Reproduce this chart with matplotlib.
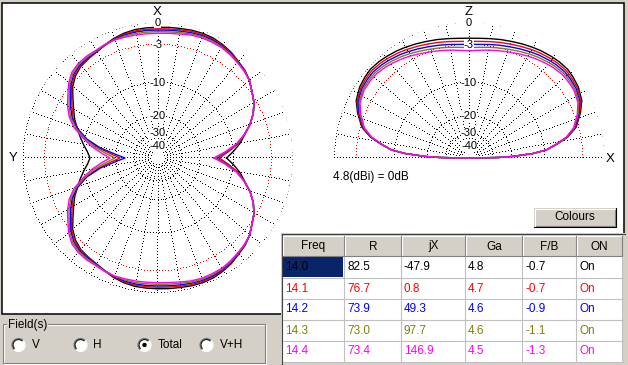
import numpy as np
import matplotlib
matplotlib.use("Agg")
import matplotlib.pyplot as plt
from matplotlib.patches import Rectangle, Circle, Arc

# Table values
freq = ["14.0", "14.1", "14.2", "14.3", "14.4"]
res_r = [82.5, 76.7, 73.9, 73.0, 73.4]
res_jx = [-47.9, 0.8, 49.3, 97.7, 146.9]
gain_ga = [4.8, 4.7, 4.6, 4.6, 4.5]
f_b = [-0.7, -0.7, -0.9, -1.1, -1.3]
on_flag = ["On", "On", "On", "On", "On"]
headers = ["Freq", "R", "jX", "Ga", "F/B", "ON"]
colors = ["#000000", "#ff0000", "#0000ff", "#808000", "#ff00ff"]

# Azimuth pattern (dB) for the upper half, angle ccw from X (negative = right side)
az_theta = [-90, -85, -80, -75, -70, -65, -60, -55, -50, -45, -40, -35, -30, -25, -20,
            -15, -10, -5, 0, 5, 10, 15, 20, 25, 30, 35, 40, 45, 50, 55, 60, 65, 70,
            75, 80, 85, 90]
az_140 = [-11.5, -9.8, -8.2, -6.9, -5.4, -4.2, -3.3, -2.7, -2.0, -1.5, -1.2, -0.8, -0.55,
          -0.35, -0.3, -0.35, -0.45, -0.5, -0.55, -0.57, -0.6, -0.75, -1.0, -1.35, -1.7,
          -1.9, -2.1, -2.6, -3.4, -4.6, -5.7, -6.7, -7.9, -9.0, -10.1, -11.2, -11.9]
az_141 = [-13.4, -11.0, -8.6, -7.0, -5.4, -4.2, -3.3, -2.7, -2.0, -1.5, -1.25, -0.85, -0.65,
          -0.5, -0.45, -0.5, -0.62, -0.7, -0.75, -0.75, -0.77, -0.88, -1.1, -1.4, -1.7,
          -1.85, -2.0, -2.45, -3.2, -4.35, -5.4, -6.4, -8.0, -10.3, -13.8, -18.2, -22.0]
az_142 = [-14.2, -11.5, -8.8, -7.0, -5.4, -4.2, -3.3, -2.7, -2.0, -1.55, -1.3, -0.95, -0.75,
          -0.62, -0.6, -0.68, -0.8, -0.88, -0.92, -0.92, -0.93, -1.0, -1.15, -1.4, -1.65,
          -1.75, -1.85, -2.25, -3.0, -4.1, -5.1, -6.2, -8.0, -10.5, -14.5, -20.0, -24.4]
az_143 = [-14.6, -11.7, -8.9, -7.0, -5.4, -4.2, -3.3, -2.7, -2.0, -1.6, -1.35, -1.05, -0.85,
          -0.77, -0.75, -0.85, -1.0, -1.1, -1.14, -1.14, -1.12, -1.15, -1.2, -1.35, -1.55,
          -1.6, -1.7, -2.05, -2.8, -3.85, -4.8, -5.9, -7.6, -10.0, -12.8, -16.5, -19.8]
az_144 = [-15.0, -11.9, -9.0, -7.0, -5.4, -4.2, -3.3, -2.7, -2.0, -1.65, -1.4, -1.15, -0.95,
          -0.92, -0.9, -1.0, -1.2, -1.3, -1.36, -1.36, -1.33, -1.3, -1.25, -1.3, -1.45,
          -1.45, -1.55, -1.85, -2.6, -3.6, -4.5, -5.6, -7.2, -9.6, -12.0, -15.0, -17.9]

# Elevation pattern (dB), elevation angle from horizon 0..90
el_deg = [0, 1, 2, 4, 6, 9, 12, 16, 22, 27, 33, 38, 42, 47, 51, 56, 60, 65, 70, 75, 80, 85, 90]
el_140 = [-80, -26, -19.5, -12.8, -9.4, -7.1, -5.0, -3.3, -2.0, -1.1, -0.6, -0.4, -0.3,
          -0.4, -0.55, -0.75, -0.95, -1.2, -1.45, -1.65, -1.85, -2.0, -2.05]
el_141 = [-80, -26, -19.5, -12.8, -9.4, -7.15, -5.07, -3.4, -2.12, -1.24, -0.78, -0.62, -0.55,
          -0.68, -0.85, -1.08, -1.3, -1.58, -1.85, -2.07, -2.28, -2.45, -2.5]
el_142 = [-80, -26, -19.5, -12.8, -9.4, -7.2, -5.14, -3.5, -2.24, -1.4, -0.96, -0.84, -0.8,
          -0.96, -1.15, -1.41, -1.65, -1.96, -2.25, -2.49, -2.71, -2.9, -2.95]
el_143 = [-80, -26, -19.5, -12.8, -9.4, -7.25, -5.21, -3.6, -2.36, -1.55, -1.14, -1.06, -1.05,
          -1.24, -1.45, -1.74, -2.0, -2.34, -2.65, -2.91, -3.14, -3.35, -3.45]
el_144 = [-80, -26, -19.5, -12.8, -9.4, -7.3, -5.28, -3.7, -2.48, -1.7, -1.32, -1.28, -1.3,
          -1.52, -1.75, -2.07, -2.35, -2.72, -3.05, -3.33, -3.58, -3.82, -3.95]

ring_db = [0, -3, -10, -20, -30, -50]
ring_labels = ["0", "-3", "-10", "-20", "-30", "-40"]
label_db = [0, -3, -10, -20, -29, -41]

W, H = 628, 365
R_PX = 135
BG = "#d4d0c8"
plt.rcParams["font.family"] = ["Liberation Sans", "DejaVu Sans"]
FS = 8.5


def to_r(db):
    # ARRL style log-periodic radial scale
    return 0.89 ** (-np.asarray(db, dtype=float) / 2)


def polar_ax(cx, cy, R=R_PX):
    ax = fig.add_axes([(cx - R) / W, 1 - (cy + R) / H, 2 * R / W, 2 * R / H],
                      projection="polar", zorder=1)
    ax.patch.set_visible(False)
    ax.spines["polar"].set_visible(False)
    ax.grid(False)
    ax.set_xticks([])
    ax.set_yticks([])
    ax.set_ylim(0, 1)
    return ax


def dotted(ax, t, r, color="black"):
    # one pixel dots, like the original GDI dotted pen
    ax.plot(t, r, ls="none", marker=",", color=color)


def draw_grid(ax, t0, t1, spokes, label_theta):
    for db in ring_db:
        rr = float(to_r(db))
        n = max(int(np.radians(t1 - t0) * rr * R_PX / 3), 8)
        t = np.linspace(np.radians(t0), np.radians(t1), n + 1)
        dotted(ax, t, np.full_like(t, rr), "red" if db == -3 else "black")
    r_in = float(to_r(-45))
    rs = np.arange(r_in, 1.0001, 3 / R_PX)
    for a in spokes:
        dotted(ax, np.full_like(rs, np.radians(a)), rs)
    for db, lab in zip(label_db, ring_labels):
        ax.text(np.radians(label_theta), to_r(db), lab, ha="center", va="center",
                fontsize=8, bbox=dict(fc="white", ec="none", pad=0))


fig = plt.figure(figsize=(W / 100, H / 100), dpi=100, facecolor=BG)

bg = fig.add_axes([0, 0, 1, 1], zorder=0)
bg.set_xlim(0, W)
bg.set_ylim(H, 0)
bg.axis("off")
bg.add_patch(Rectangle((1.5, 2.5), 622.5, 311, fc="white", ec="black", lw=1.1))

# Azimuth plot
axa = polar_ax(157.5, 158)
axa.set_theta_zero_location("N")
axa.set_theta_direction(1)
draw_grid(axa, 0, 360, range(0, 360, 10), 0)
full_t = az_theta + [180 - t for t in az_theta[::-1]][1:]
for vals, c in zip([az_140, az_141, az_142, az_143, az_144], colors):
    v = vals + vals[::-1][1:]
    axa.plot(np.radians(full_t), to_r(v), color=c, lw=1.0)

# Elevation plot
axe = polar_ax(469, 158)
axe.set_theta_zero_location("E")
axe.set_theta_direction(1)
draw_grid(axe, 0, 180, range(10, 180, 10), 90)
rs_base = np.arange(0, 1.0001, 3 / R_PX)
dotted(axe, np.zeros_like(rs_base), rs_base)
dotted(axe, np.full_like(rs_base, np.pi), rs_base)
full_e = el_deg + [180 - e for e in el_deg[::-1]][1:]
for vals, c in zip([el_140, el_141, el_142, el_143, el_144], colors):
    v = vals + vals[::-1][1:]
    axe.plot(np.radians(full_e), to_r(v), color=c, lw=1.0)

bg.text(157.5, 12, "X", ha="center", va="center", fontsize=9.5)
bg.text(13, 158, "Y", ha="center", va="center", fontsize=9.5)
bg.text(469, 12, "Z", ha="center", va="center", fontsize=9.5)
bg.text(610, 159, "X", ha="center", va="center", fontsize=9.5)
bg.text(333, 177, "4.8(dBi) = 0dB", ha="left", va="center", fontsize=FS)

# UI overlay: button, table, field group
ui = fig.add_axes([0, 0, 1, 1], zorder=3)
ui.set_xlim(0, W)
ui.set_ylim(H, 0)
ui.axis("off")

# Colours button
ui.add_patch(Rectangle((534, 208), 82, 19, fc=BG, ec="none"))
ui.plot([534.5, 534.5, 615.5], [226.5, 208.5, 208.5], color="white", lw=0.8)
ui.plot([534, 615.5, 615.5], [226.5, 226.5, 208], color="black", lw=0.8)
ui.plot([535.5, 614.5, 614.5], [225.5, 225.5, 209.5], color="#808080", lw=0.8)
ui.text(575, 217.5, "Colours", ha="center", va="center", fontsize=FS)

# Table
col_x = [282.5, 344.5, 401.5, 465.5, 522.5, 576.5, 622.5]
row_y = [235.5, 256.5, 277.5, 298.5, 319.5, 340.5, 361.5]
ui.add_patch(Rectangle((281, 233), 345, 132, fc=BG, ec="none"))
ui.plot([281.5, 281.5], [365, 233.5], color="#404040", lw=0.8)
ui.plot([281.5, 625], [233.5, 233.5], color="#404040", lw=0.8)
ui.add_patch(Rectangle((col_x[0], row_y[1]), col_x[-1] - col_x[0], row_y[-1] - row_y[1],
                       fc="white", ec="none"))
for j, h in enumerate(headers):
    x0, x1 = col_x[j], col_x[j + 1]
    ui.plot([x0 + 0.5, x0 + 0.5, x1 - 1], [row_y[1] - 1, row_y[0] + 0.5, row_y[0] + 0.5],
            color="white", lw=0.8)
    ui.plot([x0, x1 - 1, x1 - 1], [row_y[1] - 0.5, row_y[1] - 0.5, row_y[0]],
            color="#808080", lw=0.8)
    ui.text((x0 + x1) / 2, (row_y[0] + row_y[1]) / 2 + 0.5, h, ha="center", va="center",
            fontsize=FS)
for y in row_y[2:]:
    ui.plot([col_x[0], col_x[-1]], [y, y], color="#c0c0c0", lw=0.8)
for x in col_x[1:]:
    ui.plot([x - 1, x - 1], [row_y[1], row_y[-1]], color="#c0c0c0", lw=0.8)
ui.add_patch(Rectangle((col_x[0] + 0.5, row_y[1] + 0.5), col_x[1] - col_x[0] - 2, 20,
                       fc="#0a246a", ec="none"))
for i in range(5):
    cells = [freq[i], f"{res_r[i]:.1f}", f"{res_jx[i]:.1f}", f"{gain_ga[i]:.1f}",
             f"{f_b[i]:.1f}", on_flag[i]]
    yc = (row_y[i + 1] + row_y[i + 2]) / 2 + 0.5
    for j, s in enumerate(cells):
        ui.text(col_x[j] + 2.5, yc, s, ha="left", va="center", fontsize=FS, color=colors[i])

# Field(s) group box
ui.add_patch(Rectangle((3.5, 324.5), 262, 39, fc="none", ec="white", lw=0.8))
ui.add_patch(Rectangle((2.5, 323.5), 262, 39, fc="none", ec="#808080", lw=0.8))
ui.text(8, 325, "Field(s)", ha="left", va="center", fontsize=FS,
        bbox=dict(fc=BG, ec="none", pad=0.5))
radio_x = [18.5, 80.5, 144.5, 206.5]
radio_lab = ["V", "H", "Total", "V+H"]
for rx, lab in zip(radio_x, radio_lab):
    ui.add_patch(Circle((rx, 345), 6, fc="white", ec="none"))
    ui.add_patch(Arc((rx, 345), 13, 13, theta1=135, theta2=315, color="#808080", lw=0.9))
    ui.add_patch(Arc((rx, 345), 13, 13, theta1=-45, theta2=135, color="white", lw=0.9))
    ui.add_patch(Arc((rx, 345), 11, 11, theta1=135, theta2=315, color="#202020", lw=0.9))
    if lab == "Total":
        ui.add_patch(Circle((rx, 345), 2.2, fc="black", ec="none"))
    ui.text(rx + 13, 345.5, lab, ha="left", va="center", fontsize=FS)

fig.savefig("out.png", dpi=100, facecolor=BG)
